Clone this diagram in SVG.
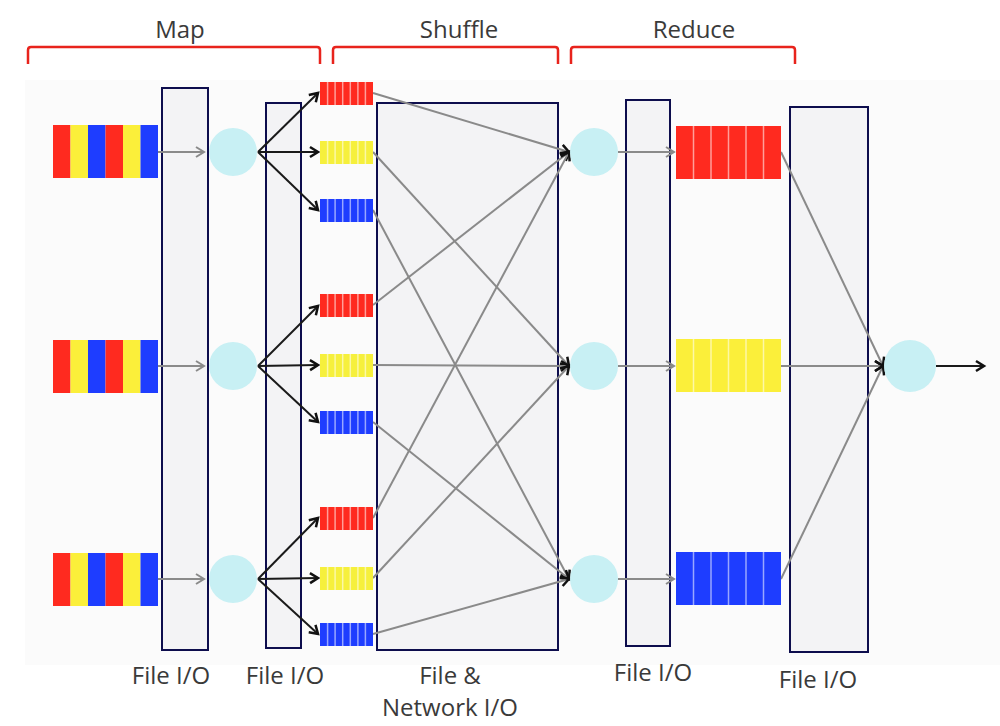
<svg xmlns="http://www.w3.org/2000/svg" width="1000" height="726" viewBox="0 0 1000 726">
<style>
.lbl{font-family:"Open Sans","Liberation Sans",sans-serif;font-size:24px;fill:#3a3a3a;text-anchor:middle}
.brace{fill:none;stroke:#e8231c;stroke-width:2.5}
.io{fill:#f3f3f5;stroke:#0d0d4d;stroke-width:2}
.circ{fill:#c8f0f4}
.gl{stroke:#8a8a8a;stroke-width:2;fill:none}
.bl{stroke:#1a1a1a;stroke-width:2;fill:none}
.sep{stroke:#ffffff;stroke-opacity:0.55;stroke-width:1.5}
</style>
<defs>
<marker id="ag" markerUnits="userSpaceOnUse" markerWidth="14" markerHeight="14" refX="11" refY="7" orient="auto">
<path d="M3,2 L11,7 L3,12" fill="none" stroke="#8a8a8a" stroke-width="2"/>
</marker>
<marker id="ab" markerUnits="userSpaceOnUse" markerWidth="14" markerHeight="14" refX="11" refY="7" orient="auto">
<path d="M3,2 L11,7 L3,12" fill="none" stroke="#111" stroke-width="2.5"/>
</marker>
<g id="inbar">
<rect x="0" y="0" width="17.5" height="53" fill="#ff2a1f"/>
<rect x="17.5" y="0" width="17.5" height="53" fill="#fbef3a"/>
<rect x="35" y="0" width="17.5" height="53" fill="#1e3dff"/>
<rect x="52.5" y="0" width="17.5" height="53" fill="#ff2a1f"/>
<rect x="70" y="0" width="17.5" height="53" fill="#fbef3a"/>
<rect x="87.5" y="0" width="17.5" height="53" fill="#1e3dff"/>
</g>
<g id="seps7">
<line class="sep" x1="7.6" y1="0" x2="7.6" y2="23"/>
<line class="sep" x1="15.1" y1="0" x2="15.1" y2="23"/>
<line class="sep" x1="22.7" y1="0" x2="22.7" y2="23"/>
<line class="sep" x1="30.3" y1="0" x2="30.3" y2="23"/>
<line class="sep" x1="37.9" y1="0" x2="37.9" y2="23"/>
<line class="sep" x1="45.4" y1="0" x2="45.4" y2="23"/>
</g>
<g id="sbR"><rect width="53" height="23" fill="#ff2a1f"/><use href="#seps7"/></g>
<g id="sbY"><rect width="53" height="23" fill="#f6f03c"/><use href="#seps7"/></g>
<g id="sbB"><rect width="53" height="23" fill="#1e3dff"/><use href="#seps7"/></g>
<g id="seps6">
<line class="sep" x1="17.5" y1="0" x2="17.5" y2="53"/>
<line class="sep" x1="35" y1="0" x2="35" y2="53"/>
<line class="sep" x1="52.5" y1="0" x2="52.5" y2="53"/>
<line class="sep" x1="70" y1="0" x2="70" y2="53"/>
<line class="sep" x1="87.5" y1="0" x2="87.5" y2="53"/>
</g>
</defs>
<rect x="0" y="0" width="1000" height="726" fill="#ffffff"/>
<rect x="25" y="80" width="975" height="585" fill="#fbfbfb"/>

<g id="headers">
<text class="lbl" x="180" y="38">Map</text>
<text class="lbl" x="459" y="38">Shuffle</text>
<text class="lbl" x="694" y="38">Reduce</text>
<path class="brace" d="M28,64 L28,50 Q28,47 31,47 L317,47 Q320,47 320,50 L320,64"/>
<path class="brace" d="M333,64 L333,50 Q333,47 336,47 L555,47 Q558,47 558,50 L558,64"/>
<path class="brace" d="M571,64 L571,50 Q571,47 574,47 L792,47 Q795,47 795,50 L795,64"/>
</g>

<g id="io-boxes">
<rect id="io1" class="io" x="162" y="88" width="46" height="562"/>
<rect id="io2" class="io" x="266" y="103" width="35" height="545"/>
<rect id="io3" class="io" x="377" y="103" width="181" height="547"/>
<rect id="io4" class="io" x="626" y="100" width="44" height="546"/>
<rect id="io5" class="io" x="790" y="107" width="78" height="545"/>
</g>

<g id="connectors">
<line class="gl" x1="158" y1="152" x2="204" y2="152" marker-end="url(#ag)"/>
<line class="gl" x1="158" y1="366" x2="204" y2="366" marker-end="url(#ag)"/>
<line class="gl" x1="158" y1="579" x2="204" y2="579" marker-end="url(#ag)"/>
<line class="bl" x1="258" y1="152" x2="318" y2="93" marker-end="url(#ab)"/>
<line class="bl" x1="258" y1="152" x2="318" y2="152" marker-end="url(#ab)"/>
<line class="bl" x1="258" y1="152" x2="318" y2="210" marker-end="url(#ab)"/>
<line class="bl" x1="258" y1="366" x2="318" y2="306" marker-end="url(#ab)"/>
<line class="bl" x1="258" y1="366" x2="318" y2="365" marker-end="url(#ab)"/>
<line class="bl" x1="258" y1="366" x2="318" y2="422" marker-end="url(#ab)"/>
<line class="bl" x1="258" y1="579" x2="318" y2="518" marker-end="url(#ab)"/>
<line class="bl" x1="258" y1="579" x2="318" y2="578" marker-end="url(#ab)"/>
<line class="bl" x1="258" y1="579" x2="318" y2="634" marker-end="url(#ab)"/>
<line class="gl" x1="373" y1="93" x2="569" y2="152" marker-end="url(#ab)"/>
<line class="gl" x1="373" y1="305" x2="569" y2="152" marker-end="url(#ab)"/>
<line class="gl" x1="373" y1="518" x2="569" y2="152" marker-end="url(#ab)"/>
<line class="gl" x1="373" y1="152" x2="569" y2="366" marker-end="url(#ab)"/>
<line class="gl" x1="373" y1="365" x2="569" y2="366" marker-end="url(#ab)"/>
<line class="gl" x1="373" y1="578" x2="569" y2="366" marker-end="url(#ab)"/>
<line class="gl" x1="373" y1="210" x2="569" y2="579" marker-end="url(#ab)"/>
<line class="gl" x1="373" y1="422" x2="569" y2="579" marker-end="url(#ab)"/>
<line class="gl" x1="373" y1="634" x2="569" y2="579" marker-end="url(#ab)"/>
<line class="gl" x1="618" y1="152" x2="674" y2="152" marker-end="url(#ag)"/>
<line class="gl" x1="618" y1="366" x2="674" y2="366" marker-end="url(#ag)"/>
<line class="gl" x1="618" y1="579" x2="674" y2="579" marker-end="url(#ag)"/>
<line class="gl" x1="781" y1="152" x2="883" y2="366" marker-end="url(#ab)"/>
<line class="gl" x1="781" y1="366" x2="883" y2="366" marker-end="url(#ab)"/>
<line class="gl" x1="781" y1="579" x2="883" y2="366" marker-end="url(#ab)"/>
<line class="bl" x1="936" y1="366" x2="984" y2="366" marker-end="url(#ab)"/>
</g>

<g id="inputs">
<use href="#inbar" x="53" y="125"/>
<use href="#inbar" x="53" y="340"/>
<use href="#inbar" x="53" y="553"/>
</g>

<g id="map-nodes">
<circle class="circ" cx="233" cy="152" r="24"/>
<circle class="circ" cx="233" cy="366" r="24"/>
<circle class="circ" cx="233" cy="579" r="24"/>
</g>

<g id="partitions">
<use href="#sbR" x="320" y="82"/>
<use href="#sbY" x="320" y="141"/>
<use href="#sbB" x="320" y="199"/>
<use href="#sbR" x="320" y="294"/>
<use href="#sbY" x="320" y="354"/>
<use href="#sbB" x="320" y="411"/>
<use href="#sbR" x="320" y="507"/>
<use href="#sbY" x="320" y="567"/>
<use href="#sbB" x="320" y="623"/>
</g>

<g id="reduce-nodes">
<circle class="circ" cx="594" cy="152" r="24"/>
<circle class="circ" cx="594" cy="366" r="24"/>
<circle class="circ" cx="594" cy="579" r="24"/>
</g>

<g id="outputs">
<g transform="translate(676,126)"><rect width="105" height="53" fill="#ff2a1f"/><use href="#seps6"/></g>
<g transform="translate(676,339)"><rect width="105" height="53" fill="#fbef3a"/><use href="#seps6"/></g>
<g transform="translate(676,552)"><rect width="105" height="53" fill="#1e3dff"/><use href="#seps6"/></g>
</g>

<g id="final-node">
<circle class="circ" cx="910" cy="366" r="26"/>
</g>

<g id="labels">
<text class="lbl" x="171" y="684">File I/O</text>
<text class="lbl" x="285" y="684">File I/O</text>
<text class="lbl" x="450" y="684">File &amp;</text>
<text class="lbl" x="450" y="716">Network I/O</text>
<text class="lbl" x="653" y="681">File I/O</text>
<text class="lbl" x="818" y="688">File I/O</text>
</g>
</svg>
